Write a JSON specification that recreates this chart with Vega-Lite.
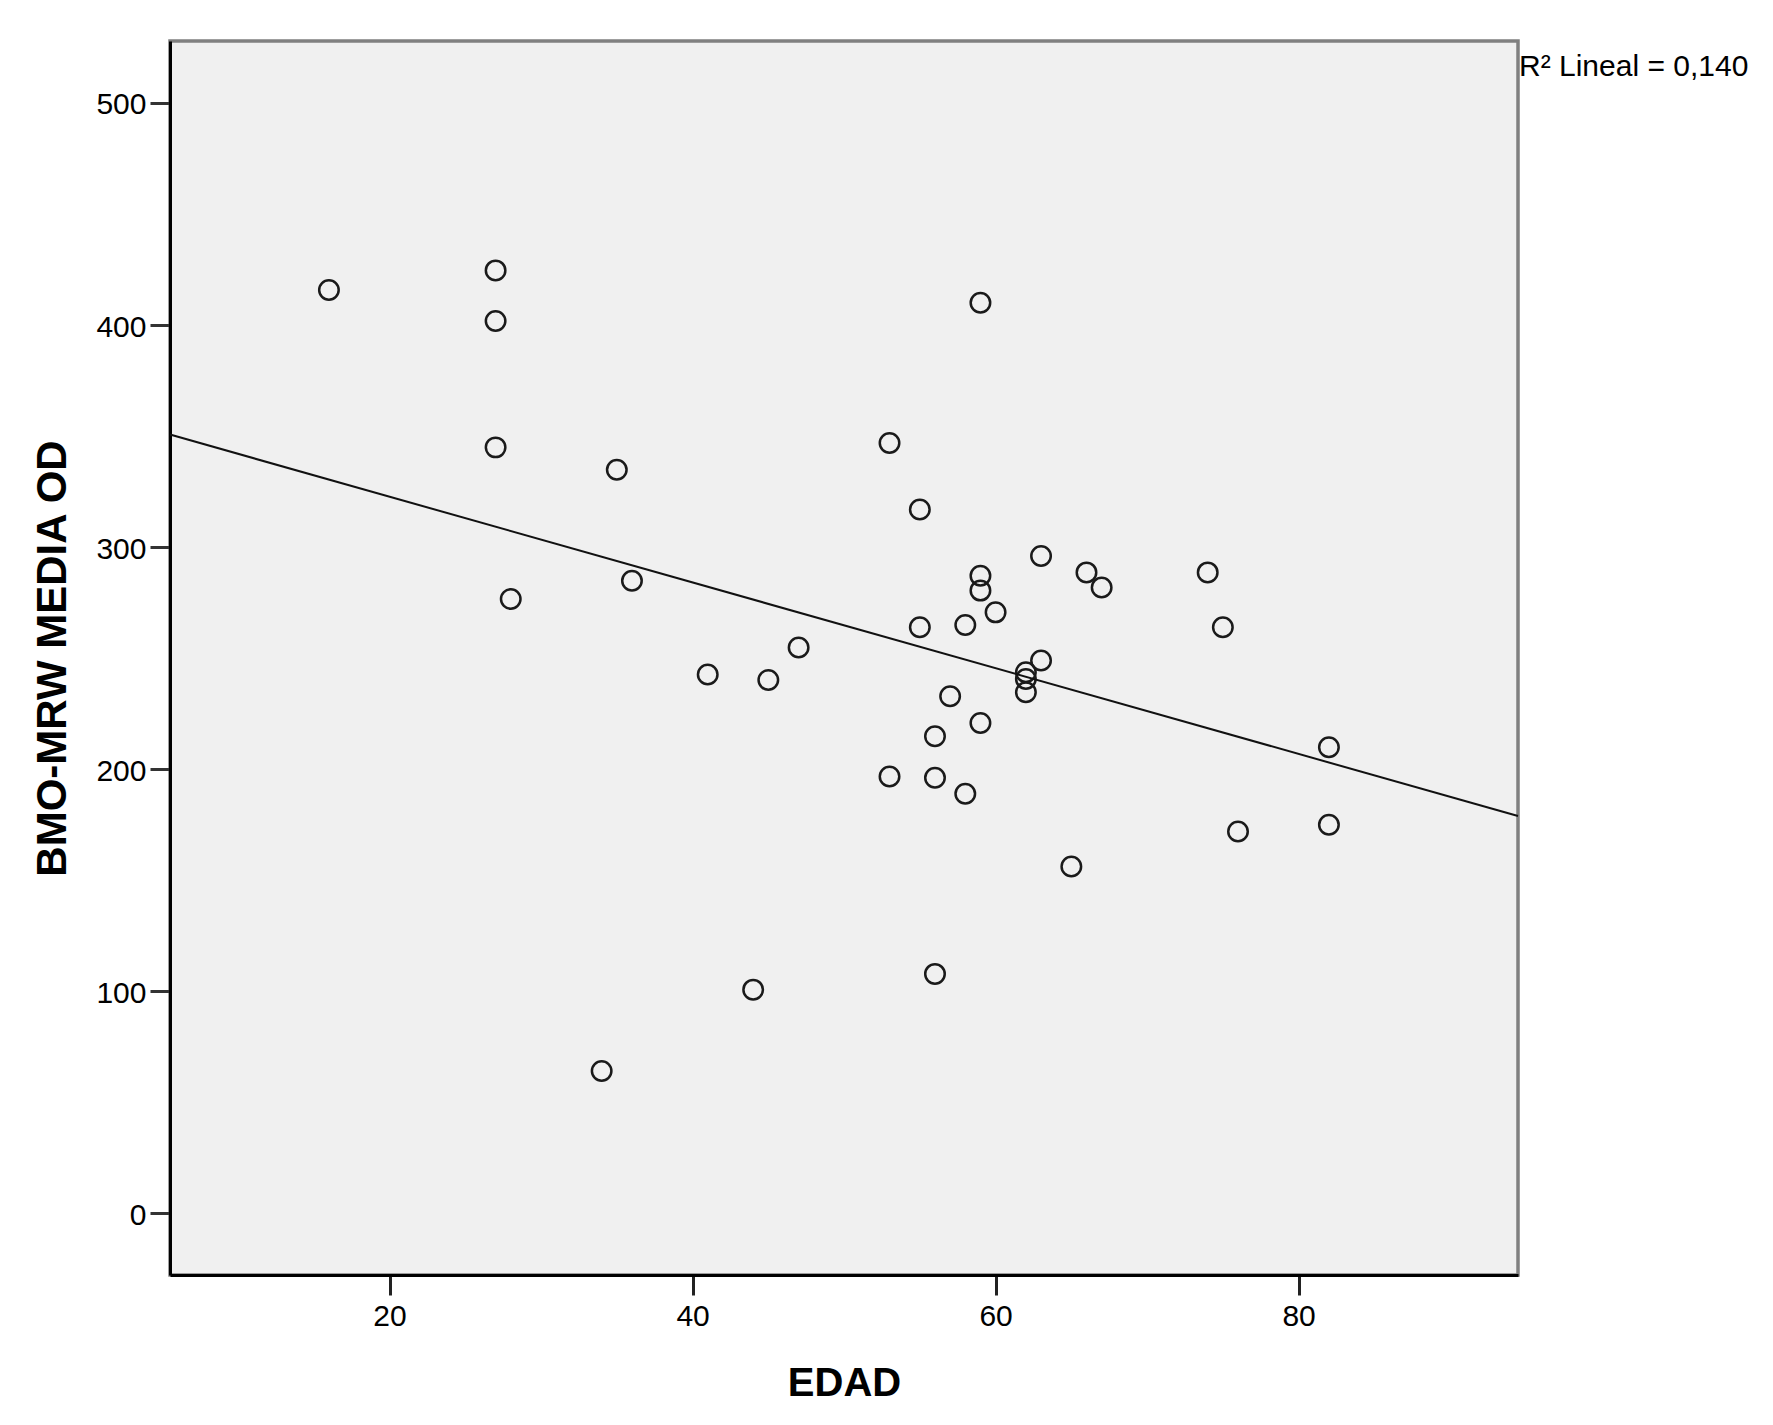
{
  "$schema": "https://vega.github.io/schema/vega-lite/v6.json",
  "autosize": {"type": "none"},
  "padding": {"left": 170, "top": 41, "right": 255, "bottom": 150},
  "width": 1348,
  "height": 1234,
  "background": "white",
  "config": {
    "view": {"fill": "#f0f0f0", "stroke": "#808080", "strokeWidth": 3.5},
    "font": "Liberation Sans"
  },
  "title": {
    "text": "R² Lineal = 0,140",
    "orient": "top", "anchor": "end", "frame": "group", "align": "left",
    "baseline": "alphabetic", "offset": 0, "dx": 1, "dy": 65,
    "fontSize": 30, "fontWeight": "normal", "font": "Liberation Sans", "color": "#000"
  },
  "data": {
    "values": [
      {"EDAD": 16, "BMO": 415.8},
      {"EDAD": 27, "BMO": 424.6},
      {"EDAD": 27, "BMO": 401.8},
      {"EDAD": 27, "BMO": 344.9},
      {"EDAD": 28, "BMO": 276.6},
      {"EDAD": 34, "BMO": 64.1},
      {"EDAD": 35, "BMO": 334.8},
      {"EDAD": 36, "BMO": 284.8},
      {"EDAD": 41, "BMO": 242.6},
      {"EDAD": 44, "BMO": 100.7},
      {"EDAD": 45, "BMO": 240.1},
      {"EDAD": 47, "BMO": 254.8},
      {"EDAD": 53, "BMO": 346.9},
      {"EDAD": 53, "BMO": 196.7},
      {"EDAD": 55, "BMO": 316.9},
      {"EDAD": 55, "BMO": 263.9},
      {"EDAD": 56, "BMO": 214.8},
      {"EDAD": 56, "BMO": 196.1},
      {"EDAD": 56, "BMO": 107.8},
      {"EDAD": 57, "BMO": 232.8},
      {"EDAD": 58, "BMO": 264.9},
      {"EDAD": 58, "BMO": 188.9},
      {"EDAD": 59, "BMO": 410.0},
      {"EDAD": 59, "BMO": 287.1},
      {"EDAD": 59, "BMO": 280.4},
      {"EDAD": 59, "BMO": 220.8},
      {"EDAD": 60, "BMO": 270.6},
      {"EDAD": 62, "BMO": 243.6},
      {"EDAD": 62, "BMO": 240.6},
      {"EDAD": 62, "BMO": 234.6},
      {"EDAD": 63, "BMO": 296.0},
      {"EDAD": 63, "BMO": 248.9},
      {"EDAD": 65, "BMO": 156.2},
      {"EDAD": 66, "BMO": 288.6},
      {"EDAD": 67, "BMO": 281.8},
      {"EDAD": 74, "BMO": 288.6},
      {"EDAD": 75, "BMO": 263.9},
      {"EDAD": 76, "BMO": 171.9},
      {"EDAD": 82, "BMO": 209.9},
      {"EDAD": 82, "BMO": 175.0}
    ]
  },
  "encoding": {
    "x": {
      "field": "EDAD", "type": "quantitative",
      "scale": {"domain": [5.51, 94.48], "nice": false, "zero": false},
      "axis": {
        "values": [20, 40, 60, 80], "title": "EDAD", "grid": false,
        "domainColor": "#000", "domainWidth": 3,
        "tickColor": "#222", "tickWidth": 3, "tickSize": 20,
        "labelFont": "Liberation Sans", "labelFontSize": 30, "labelPadding": 6, "labelColor": "#000", "labelFlush": false,
        "titleFont": "Liberation Sans", "titleFontSize": 40, "titleFontWeight": "bold", "titleColor": "#000",
        "titleBaseline": "middle", "titleAlign": "center", "titleX": 674, "titleY": 108
      }
    },
    "y": {
      "field": "BMO", "type": "quantitative",
      "scale": {"domain": [-27.8, 527.9], "nice": false, "zero": false},
      "axis": {
        "values": [0, 100, 200, 300, 400, 500], "title": "BMO-MRW MEDIA OD", "grid": false,
        "domainColor": "#000", "domainWidth": 3,
        "tickColor": "#333", "tickWidth": 3, "tickSize": 20,
        "labelFont": "Liberation Sans", "labelFontSize": 30, "labelPadding": 4, "labelColor": "#000", "labelOffset": 2, "labelFlush": false,
        "titleFont": "Liberation Sans", "titleFontSize": 42, "titleFontWeight": "bold", "titleColor": "#000",
        "titleAngle": -90, "titleBaseline": "middle", "titleAlign": "center", "titleX": -118, "titleY": 617
      }
    }
  },
  "layer": [
    {
      "mark": {"type": "point", "shape": "circle", "filled": false, "size": 380, "stroke": "#1a1a1a", "strokeWidth": 2.5, "opacity": 1}
    },
    {
      "transform": [{"regression": "BMO", "on": "EDAD", "extent": [5.51, 94.48]}],
      "mark": {"type": "line", "color": "#111111", "strokeWidth": 2}
    }
  ]
}
